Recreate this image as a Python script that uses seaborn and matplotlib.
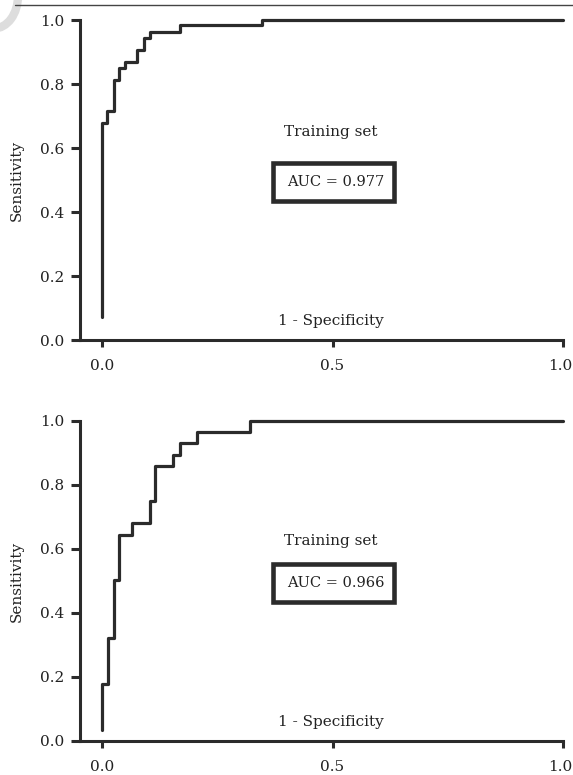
import matplotlib
matplotlib.use("Agg")
import matplotlib.pyplot as plt
import matplotlib.transforms as mtransforms
import seaborn as sns
import pandas as pd
from matplotlib.patches import Rectangle, Circle
from matplotlib.lines import Line2D

# ROC step vertices (1 - specificity, sensitivity)
top_fpr = [0.0, 0.0, 0.0115, 0.027, 0.0376, 0.0506, 0.077, 0.091, 0.104, 0.169, 0.348, 1.0]
top_tpr = [0.073, 0.679, 0.717, 0.8125, 0.851, 0.869, 0.906, 0.945, 0.9625, 0.983, 1.0, 1.0]
bot_fpr = [0.0, 0.0, 0.0137, 0.027, 0.0376, 0.065, 0.104, 0.116, 0.155, 0.169, 0.207, 0.321, 1.0]
bot_tpr = [0.034, 0.178, 0.321, 0.502, 0.644, 0.680, 0.751, 0.859, 0.894, 0.930, 0.967, 1.0, 1.0]

panel_titles = ["Training set", "Training set"]
auc_labels = ["AUC = 0.977", "AUC = 0.966"]
x_ticks = [0.0, 0.5, 1.0]
y_ticks = [0.0, 0.2, 0.4, 0.6, 0.8, 1.0]
x_label = "1 - Specificity"
y_label = "Sensitivity"

sns.set_theme(style="white")
plt.rcParams["font.family"] = ["DejaVu Serif"]

W, H = 573, 775
fig = plt.figure(figsize=(W / 100, H / 100), dpi=100)
ink = "#2b2b2b"
txt = "#222222"

# header rule and watermark fragment
fig.add_artist(Line2D([15 / W, 1.0], [1 - 5 / H, 1 - 5 / H], color="#444444", lw=1.0))
fig.add_artist(Circle((-6 / W, 1 + 4 / H), 24 / W, transform=fig.transFigure,
                      facecolor="none", edgecolor="#dddddd", lw=6))

panels = [
    (top_fpr, top_tpr, (775 - 340) / H, 0.651, 0.494),
    (bot_fpr, bot_tpr, (775 - 741) / H, 0.625, 0.494),
]

left = 80 / W
width = (563 - 80) / W
height = 320 / H
x0 = -22 / 461

for i, (fpr, tpr, bottom, ty, ay) in enumerate(panels):
    ax = fig.add_axes([left, bottom, width, height])
    df = pd.DataFrame({"fpr": fpr, "tpr": tpr})
    sns.lineplot(data=df, x="fpr", y="tpr", ax=ax, estimator=None, sort=False,
                 drawstyle="steps-post", color=ink, lw=2.3, clip_on=False)
    ax.set_xlim(x0, 1.0)
    ax.set_ylim(0, 1.0)
    for s in ["top", "right"]:
        ax.spines[s].set_visible(False)
    for s in ["left", "bottom"]:
        ax.spines[s].set_color(ink)
        ax.spines[s].set_linewidth(2.2)
    ax.set_xticks(x_ticks)
    ax.set_xticklabels([f"{v:.1f}" for v in x_ticks])
    ax.set_yticks(y_ticks)
    ax.set_yticklabels([f"{v:.1f}" for v in y_ticks])
    ax.tick_params(axis="y", direction="out", length=6.5, width=2.2, color=ink,
                   pad=5, labelsize=11, labelcolor=txt, left=True)
    ax.tick_params(axis="x", direction="out", length=5, width=2.2, color=ink,
                   pad=9, labelsize=11, labelcolor=txt, bottom=True)
    last = ax.get_xticklabels()[-1]
    last.set_transform(last.get_transform() +
                       mtransforms.ScaledTranslation(-3 / 100, 0, fig.dpi_scale_trans))
    ax.set_xlabel("")
    ax.set_ylabel(y_label, fontsize=11, color=txt)
    ax.yaxis.set_label_coords(-56 / 483, 0.5)
    ax.grid(False)
    ax.patch.set_alpha(0)

    ax.text(0.497, ty, panel_titles[i], ha="center", va="center", fontsize=11, color=txt)
    ax.text(0.507, ay, auc_labels[i], ha="center", va="center", fontsize=10.5, color=txt)
    ax.add_patch(Rectangle((0.371, 0.433), 0.262, 0.121, facecolor="none",
                           edgecolor=ink, lw=3.3, clip_on=False))
    ax.text(0.497, 0.06, x_label, ha="center", va="center", fontsize=11, color=txt)

fig.savefig("out.png", dpi=100)
